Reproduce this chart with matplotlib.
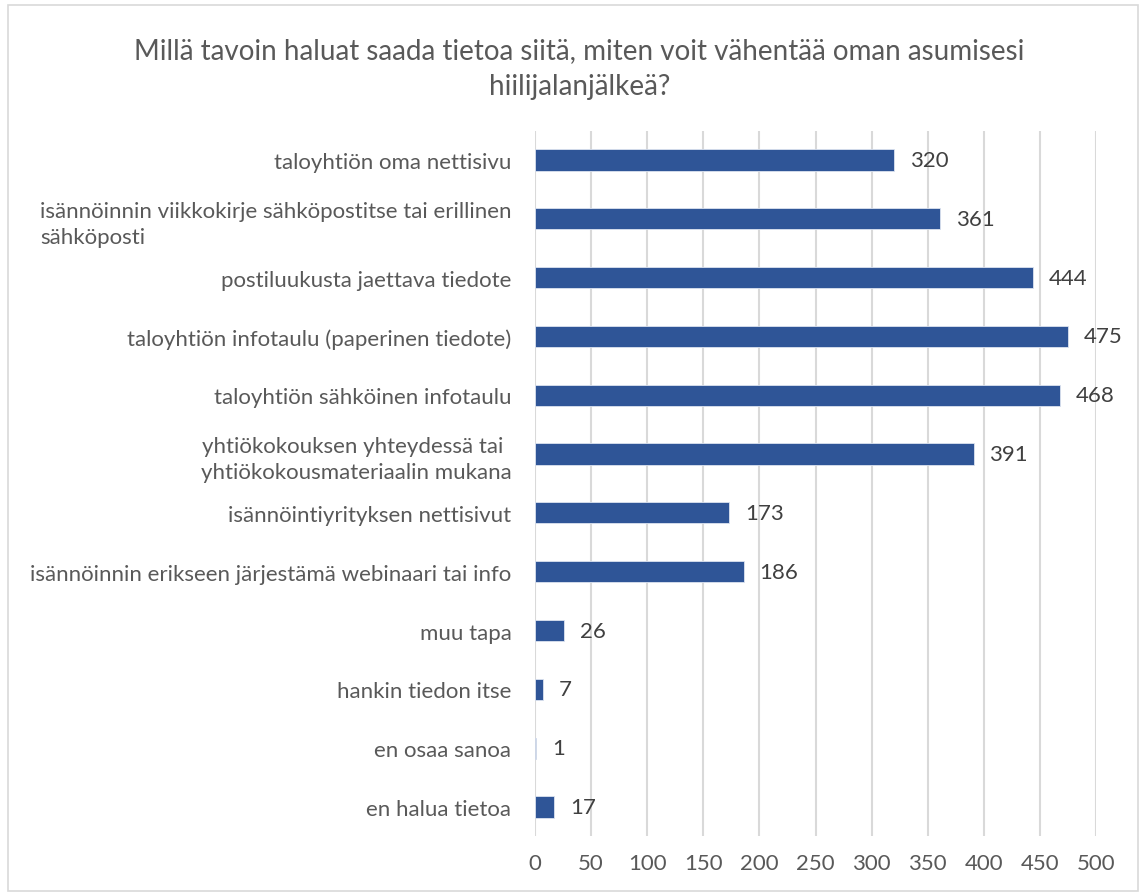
import matplotlib.pyplot as plt
from matplotlib.patches import Rectangle

plt.rcParams['font.family'] = ['Lato', 'DejaVu Sans']

# Survey answers, top to bottom as shown
categories = [
    'taloyhtiön oma nettisivu',
    'isännöinnin viikkokirje sähköpostitse tai erillinen\nsähköposti',
    'postiluukusta jaettava tiedote',
    'taloyhtiön infotaulu (paperinen tiedote)',
    'taloyhtiön sähköinen infotaulu',
    'yhtiökokouksen yhteydessä tai \nyhtiökokousmateriaalin mukana',
    'isännöintiyrityksen nettisivut',
    'isännöinnin erikseen järjestämä webinaari tai info',
    'muu tapa',
    'hankin tiedon itse',
    'en osaa sanoa',
    'en halua tietoa',
]
counts = [320, 361, 444, 475, 468, 391, 173, 186, 26, 7, 1, 17]
x_ticks = [0, 50, 100, 150, 200, 250, 300, 350, 400, 450, 500]

title = 'Millä tavoin haluat saada tietoa siitä, miten voit vähentää oman asumisesi\nhiilijalanjälkeä?'

grey = '#595959'
bar_color = '#2F5597'

fig = plt.figure(figsize=(11.41, 8.95), dpi=100)
ax = fig.add_axes([0.4689, 0.0644, 0.4917, 0.7886])

pos = list(range(len(categories)))
bars = ax.barh(pos, counts, height=0.36, color=bar_color,
               edgecolor='#dce3f0', linewidth=0.6, zorder=3)
ax.set_ylim(len(categories) - 0.5, -0.5)
ax.set_xlim(0, 500)
ax.set_xticks(x_ticks)
ax.set_yticks(pos)
ax.set_yticklabels(categories, fontsize=16, color=grey, linespacing=1.4)
ax.tick_params(axis='y', length=0, pad=17)
ax.tick_params(axis='x', length=0, pad=12, labelsize=16, labelcolor=grey)
for lbl in ax.get_yticklabels():
    # the meeting label is centred, the others left-aligned
    lbl.set_multialignment('center' if lbl.get_text().startswith('yhtiö') else 'left')

ax.grid(axis='x', color='#d9d9d9', linewidth=1.5, zorder=0)
for s in ax.spines.values():
    s.set_visible(False)

# value labels at the end of each bar
for bar, val in zip(bars, counts):
    ax.text(bar.get_width() + 14, bar.get_y() + bar.get_height() / 2, str(val),
            va='center', ha='left', fontsize=16, color='#404040')

fig.text(0.508, 0.923, title, ha='center', va='center', fontsize=20,
         color=grey, linespacing=1.5)

# light frame around the chart area
fig.patches.append(Rectangle((0.007, 0.003), 0.99, 0.99, transform=fig.transFigure,
                             fill=False, edgecolor='#d9d9d9', linewidth=1.2))

fig.savefig('out.png', dpi=100, facecolor='white')
